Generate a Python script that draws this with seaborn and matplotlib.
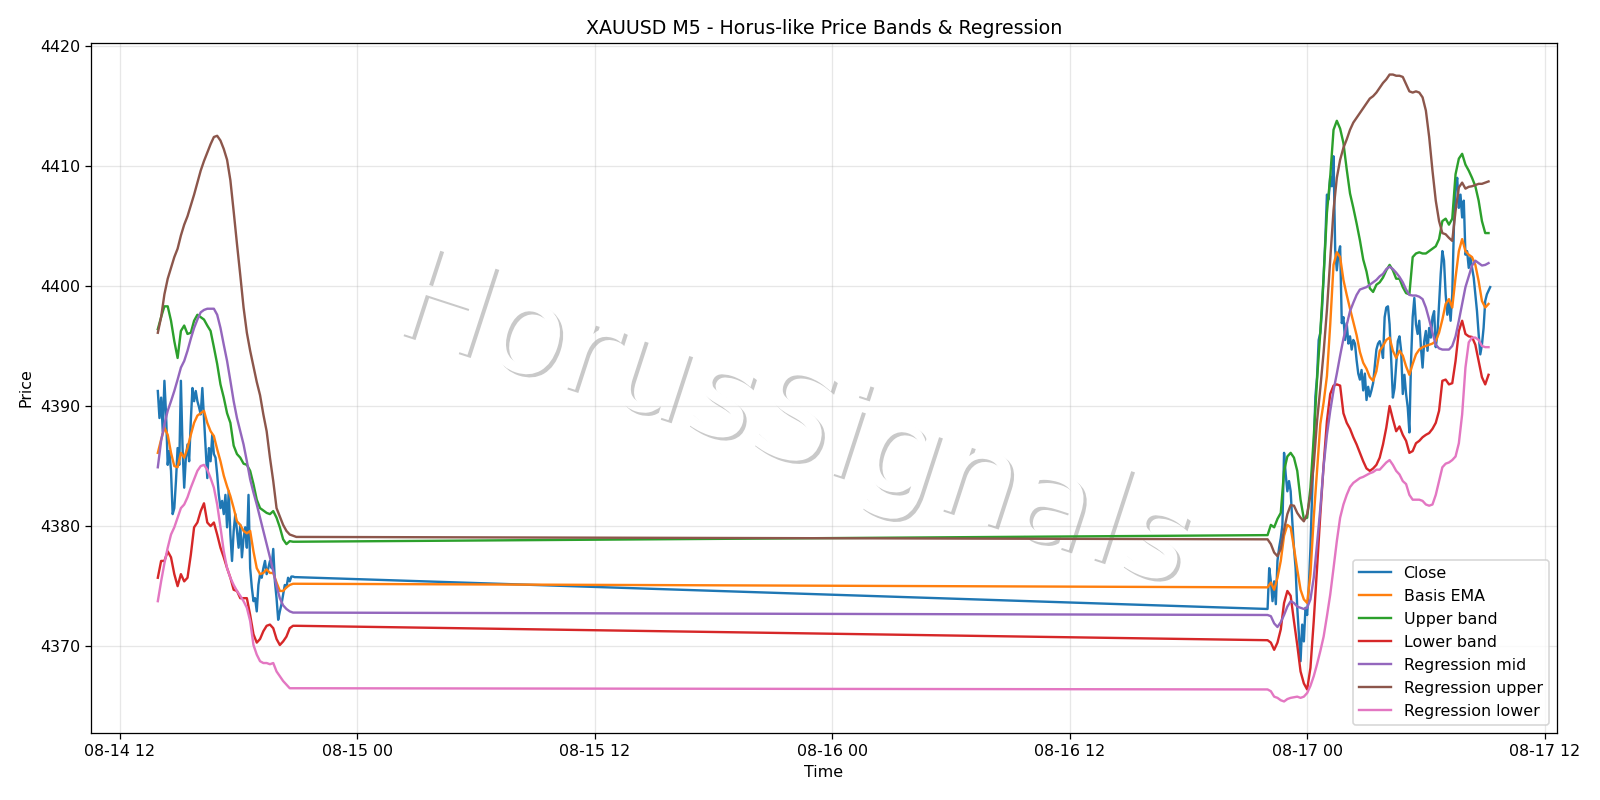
import pandas as pd
import seaborn as sns
import matplotlib.pyplot as plt
import matplotlib.dates as mdates
import matplotlib.patheffects as pe

# --- Close prices, M5 bars (Friday session, then Sunday/Monday session) ---
close_fri = [4391.25, 4389.0, 4390.7, 4387.9, 4392.1, 4389.3, 4385.1, 4386.25, 4384.6, 4381.0,
             4381.5, 4383.75, 4386.5, 4385.1, 4392.1, 4386.5, 4383.2, 4385.7, 4386.8, 4385.4,
             4388.75, 4391.5, 4390.4, 4391.25, 4390.4, 4389.9, 4389.3, 4391.5, 4389.0, 4386.5,
             4384.0, 4386.5, 4385.4, 4387.6, 4386.0, 4385.7, 4384.3, 4382.6, 4381.5, 4382.1,
             4381.0, 4382.6, 4379.9, 4382.9, 4379.3, 4377.1, 4379.6, 4381.0, 4379.6, 4378.2,
             4380.1, 4377.4, 4379.0, 4379.9, 4378.2, 4382.6, 4376.5, 4374.9, 4373.75, 4374.0,
             4372.9, 4375.1, 4376.0, 4375.7, 4376.5, 4377.1, 4376.0, 4376.5, 4377.1, 4376.5,
             4378.1, 4375.4, 4374.0, 4372.2, 4372.9, 4373.5, 4374.3, 4375.1, 4374.9, 4375.7,
             4375.4, 4375.8, 4375.8, 4375.75, 4375.75]
close_sun = [4373.1, 4376.5, 4375.4, 4373.75, 4375.4, 4373.5, 4377.1, 4378.2, 4379.0, 4380.1,
             4386.1, 4384.3, 4382.9, 4383.75, 4382.9, 4380.4, 4378.2, 4376.5, 4373.2, 4371.0,
             4368.75, 4371.8, 4370.4, 4373.2, 4372.6, 4374.9, 4378.2, 4382.6, 4386.5, 4390.8,
             4392.4, 4395.5, 4396.1, 4398.0, 4400.8, 4403.8, 4407.6, 4407.2, 4409.1, 4408.3,
             4410.8, 4403.0, 4401.3, 4402.7, 4403.3, 4396.9, 4397.4, 4395.5, 4396.9, 4395.2,
             4395.8, 4394.7, 4395.5, 4395.2, 4393.8, 4392.7, 4392.2, 4393.0, 4391.3, 4392.7,
             4390.5, 4391.6, 4390.8, 4391.3, 4391.9, 4393.3, 4394.7, 4395.2, 4395.4, 4394.9,
             4394.0, 4397.4, 4398.2, 4398.3, 4396.8, 4393.75, 4390.7, 4391.5, 4393.5, 4395.4,
             4395.8, 4394.6, 4391.0, 4392.6, 4391.0, 4389.9, 4387.8, 4393.75, 4397.4, 4399.0,
             4396.8, 4396.0, 4397.1, 4394.9, 4393.2, 4395.4, 4396.25, 4394.6, 4396.5, 4395.7,
             4397.4, 4397.9, 4394.9, 4396.0, 4398.5, 4401.0, 4402.9, 4402.1, 4399.3, 4397.6,
             4398.75, 4397.1, 4399.3, 4404.9, 4408.2, 4409.0, 4406.5, 4407.6, 4405.7, 4407.1,
             4402.6, 4402.9, 4401.5, 4402.4, 4401.5, 4400.7, 4399.3, 4397.9, 4396.0, 4394.3,
             4395.1, 4396.5, 4398.75, 4399.3, 4399.6, 4399.9]

# --- bands, read every 10 minutes ---
ema_fri = [4386.1, 4387.2, 4388.2, 4387.6, 4386.1, 4385.0, 4384.9, 4386.1, 4385.7, 4386.5,
           4387.6, 4388.6, 4389.2, 4389.4, 4389.6, 4388.6, 4387.9, 4387.5, 4386.4, 4385.4,
           4384.2, 4383.3, 4382.5, 4381.5, 4380.4, 4380.1, 4379.6, 4379.4, 4379.6, 4377.9,
           4376.5, 4376.0, 4376.1, 4376.4, 4376.1, 4376.1, 4375.3, 4374.6, 4374.6, 4374.9,
           4375.1, 4375.2, 4375.2]
upper_fri = [4396.4, 4397.4, 4398.3, 4398.3, 4397.1, 4395.4, 4394.0, 4396.25, 4396.7, 4396.0,
             4396.1, 4397.1, 4397.6, 4397.4, 4397.2, 4396.7, 4396.25, 4394.9, 4393.5, 4391.8,
             4390.7, 4389.4, 4388.6, 4386.7, 4386.0, 4385.7, 4385.2, 4385.1, 4384.6, 4383.5,
             4382.2, 4381.5, 4381.3, 4381.1, 4381.0, 4381.25, 4380.7, 4379.9, 4378.9, 4378.5,
             4378.75, 4378.7, 4378.7]
lower_fri = [4375.7, 4377.1, 4377.1, 4377.9, 4377.4, 4376.0, 4375.0, 4376.0, 4375.4, 4375.7,
             4377.6, 4379.9, 4380.3, 4381.25, 4381.9, 4380.3, 4380.0, 4380.3, 4379.3, 4378.2,
             4377.4, 4376.5, 4375.7, 4374.7, 4374.6, 4374.0, 4374.0, 4374.0, 4372.6, 4371.0,
             4370.3, 4370.6, 4371.25, 4371.7, 4371.8, 4371.5, 4370.6, 4370.1, 4370.4, 4370.8,
             4371.5, 4371.7, 4371.7]
reg_mid_fri = [4384.9, 4387.1, 4388.5, 4389.6, 4390.4, 4391.25, 4392.2, 4393.2, 4393.75, 4394.6,
               4395.6, 4396.5, 4397.2, 4397.8, 4398.0, 4398.1, 4398.1, 4398.1, 4397.6, 4396.5,
               4395.1, 4393.75, 4392.1, 4390.4, 4389.0, 4387.9, 4386.8, 4385.4, 4383.9, 4382.8,
               4381.8, 4380.7, 4379.6, 4378.5, 4377.4, 4376.25, 4375.0, 4374.0, 4373.4, 4373.1,
               4372.9, 4372.8, 4372.8]
reg_up_fri = [4396.1, 4397.4, 4399.3, 4400.6, 4401.5, 4402.4, 4403.1, 4404.2, 4405.1, 4405.8,
              4406.7, 4407.6, 4408.6, 4409.6, 4410.4, 4411.1, 4411.8, 4412.4, 4412.5, 4412.1,
              4411.4, 4410.5, 4408.8, 4406.2, 4403.5, 4400.9, 4398.2, 4396.1, 4394.6, 4393.3,
              4392.0, 4390.9, 4389.3, 4387.9, 4385.7, 4383.75, 4381.5, 4380.8, 4380.1, 4379.6,
              4379.3, 4379.2, 4379.1]
reg_low_fri = [4373.75, 4375.4, 4376.9, 4378.2, 4379.3, 4379.9, 4380.7, 4381.5, 4381.8, 4382.4,
               4383.2, 4383.9, 4384.6, 4385.0, 4385.1, 4384.7, 4384.0, 4383.2, 4381.8, 4379.9,
               4377.9, 4376.5, 4375.7, 4375.1, 4374.6, 4374.2, 4373.75, 4373.2, 4372.1, 4370.1,
               4369.3, 4368.75, 4368.6, 4368.6, 4368.5, 4368.6, 4367.9, 4367.5, 4367.1, 4366.8,
               4366.5, 4366.5, 4366.5]

ema_sun = [4374.9, 4375.3, 4374.7, 4375.7, 4377.1, 4379.2, 4380.1, 4379.9, 4378.2, 4376.4,
           4374.7, 4373.9, 4373.6, 4376.0, 4380.7, 4384.6, 4388.5, 4390.3, 4392.5, 4396.8,
           4401.75, 4402.8, 4402.4, 4400.5, 4399.25, 4398.1, 4397.0, 4395.9, 4394.5, 4393.6,
           4393.1, 4392.4, 4392.1, 4392.9, 4394.6, 4395.0, 4395.5, 4395.7, 4394.6, 4394.0,
           4394.6, 4394.2, 4393.3, 4392.6, 4393.5, 4394.3, 4394.7, 4394.9, 4395.0, 4395.1,
           4395.2, 4395.4, 4396.1, 4397.2, 4398.5, 4398.9, 4398.2, 4400.7, 4402.9, 4403.9,
           4402.9, 4402.6, 4402.4, 4401.75, 4400.4, 4398.75, 4398.2, 4398.5]
upper_sun = [4379.25, 4380.1, 4379.9, 4380.6, 4381.1, 4384.6, 4385.8, 4386.1, 4385.7, 4384.6,
             4382.2, 4380.6, 4380.7, 4383.2, 4387.4, 4392.2, 4396.2, 4400.8, 4406.1, 4409.1,
             4413.0, 4413.75, 4413.1, 4411.9, 4409.7, 4407.7, 4406.5, 4405.2, 4403.8, 4402.2,
             4401.2, 4399.8, 4399.5, 4400.1, 4400.3, 4400.7, 4401.3, 4401.75, 4401.3, 4400.6,
             4400.6, 4399.9, 4399.4, 4399.3, 4402.4, 4402.7, 4402.8, 4402.7, 4402.7, 4402.9,
             4403.1, 4403.3, 4403.9, 4405.4, 4405.6, 4405.1, 4405.6, 4409.3, 4410.6, 4411.0,
             4410.1, 4409.6, 4409.0, 4408.3, 4407.1, 4405.4, 4404.4, 4404.4]
lower_sun = [4370.5, 4370.3, 4369.7, 4370.3, 4371.4, 4373.6, 4374.6, 4374.2, 4372.1, 4370.1,
             4367.9, 4366.9, 4366.4, 4368.2, 4372.1, 4376.5, 4381.0, 4385.1, 4388.75, 4391.0,
             4391.7, 4391.8, 4391.7, 4389.4, 4388.6, 4388.1, 4387.4, 4386.8, 4386.1, 4385.4,
             4384.8, 4384.6, 4384.8, 4385.1, 4385.7, 4386.8, 4388.2, 4390.0, 4388.9, 4387.9,
             4388.3, 4387.6, 4387.1, 4386.1, 4386.25, 4386.9, 4387.1, 4387.4, 4387.6, 4387.75,
             4388.1, 4388.6, 4389.6, 4392.1, 4392.2, 4391.8, 4391.9, 4393.75, 4396.25, 4397.1,
             4396.0, 4395.8, 4395.75, 4395.1, 4393.75, 4392.4, 4391.8, 4392.6]
reg_mid_sun = [4372.6, 4372.5, 4371.9, 4371.6, 4372.0, 4372.6, 4373.3, 4373.75, 4373.6, 4373.3,
               4373.2, 4373.1, 4373.2, 4373.9, 4375.7, 4378.5, 4381.5, 4385.0, 4387.6, 4389.6,
               4391.3, 4392.7, 4394.2, 4395.6, 4396.75, 4397.9, 4398.6, 4399.25, 4399.7, 4399.8,
               4399.9, 4400.1, 4400.3, 4400.5, 4400.8, 4401.0, 4401.4, 4401.6, 4401.4, 4401.1,
               4400.75, 4400.3, 4399.7, 4399.25, 4399.2, 4399.2, 4399.1, 4398.9, 4398.2, 4397.2,
               4396.1, 4395.1, 4394.8, 4394.7, 4394.7, 4394.7, 4395.0, 4395.8, 4397.1, 4398.5,
               4399.9, 4400.8, 4401.7, 4402.1, 4401.9, 4401.7, 4401.75, 4401.9]
reg_up_sun = [4378.9, 4378.5, 4377.8, 4377.5, 4378.1, 4379.7, 4381.0, 4381.75, 4381.7, 4381.1,
              4380.7, 4380.4, 4381.0, 4382.6, 4385.1, 4388.75, 4391.5, 4394.5, 4398.0, 4402.2,
              4406.3, 4409.0, 4410.5, 4411.5, 4412.2, 4413.0, 4413.6, 4414.0, 4414.4, 4414.8,
              4415.2, 4415.6, 4415.8, 4416.1, 4416.5, 4416.9, 4417.2, 4417.6, 4417.6, 4417.5,
              4417.5, 4417.4, 4416.8, 4416.2, 4416.1, 4416.2, 4416.1, 4415.7, 4414.6, 4412.4,
              4409.6, 4407.1, 4405.4, 4404.4, 4404.3, 4404.0, 4403.75, 4406.25, 4408.2, 4408.6,
              4408.1, 4408.25, 4408.3, 4408.4, 4408.5, 4408.5, 4408.6, 4408.7]
reg_low_sun = [4366.4, 4366.25, 4365.8, 4365.7, 4365.5, 4365.4, 4365.6, 4365.7, 4365.75, 4365.8,
               4365.7, 4365.8, 4366.1, 4366.7, 4367.5, 4368.5, 4369.6, 4370.8, 4372.5, 4374.3,
               4376.5, 4378.75, 4380.7, 4381.8, 4382.6, 4383.25, 4383.6, 4383.8, 4384.0, 4384.1,
               4384.25, 4384.4, 4384.5, 4384.7, 4384.7, 4385.0, 4385.3, 4385.5, 4385.1, 4384.6,
               4384.3, 4383.75, 4383.5, 4382.6, 4382.2, 4382.2, 4382.2, 4382.1, 4381.8, 4381.7,
               4381.8, 4382.6, 4383.75, 4384.9, 4385.2, 4385.3, 4385.5, 4385.8, 4386.9, 4389.3,
               4393.2, 4395.3, 4395.7, 4395.7, 4395.5, 4395.0, 4394.9, 4394.9]

# time axes (market closed over the weekend)
close_time = pd.date_range('2026-08-14 13:55', periods=len(close_fri), freq='5min').append(
    pd.date_range('2026-08-16 22:00', periods=len(close_sun), freq='5min'))
band_time = pd.date_range('2026-08-14 13:55', periods=len(ema_fri), freq='10min').append(
    pd.date_range('2026-08-16 22:00', periods=len(ema_sun), freq='10min'))

df_close = pd.DataFrame({'time': close_time, 'close': close_fri + close_sun})
df_bands = pd.DataFrame({
    'time': band_time,
    'ema': ema_fri + ema_sun,
    'upper': upper_fri + upper_sun,
    'lower': lower_fri + lower_sun,
    'reg_mid': reg_mid_fri + reg_mid_sun,
    'reg_up': reg_up_fri + reg_up_sun,
    'reg_low': reg_low_fri + reg_low_sun,
})

fig, ax = plt.subplots(figsize=(14, 7), dpi=1600 / 14)
fig.subplots_adjust(left=0.057, right=0.973, top=0.946, bottom=0.084)

sns.lineplot(data=df_close, x='time', y='close', ax=ax, color='#1f77b4', label='Close', linewidth=1.5)
series = [('ema', 'Basis EMA', '#ff7f0e'),
          ('upper', 'Upper band', '#2ca02c'),
          ('lower', 'Lower band', '#d62728'),
          ('reg_mid', 'Regression mid', '#9467bd'),
          ('reg_up', 'Regression upper', '#8c564b'),
          ('reg_low', 'Regression lower', '#e377c2')]
for col, name, c in series:
    sns.lineplot(data=df_bands, x='time', y=col, ax=ax, color=c, label=name, linewidth=1.5)

ax.set_title('XAUUSD M5 - Horus-like Price Bands & Regression')
ax.set_xlabel('Time')
ax.set_ylabel('Price')
ax.xaxis.set_major_locator(mdates.HourLocator(byhour=[0, 12]))
ax.xaxis.set_major_formatter(mdates.DateFormatter('%m-%d %H'))
ax.grid(True, alpha=0.3)
ax.legend(loc='lower right')

# watermark, under grid and lines
ax.text(0.479, 0.448, 'HorusSignals', transform=ax.transAxes, fontsize=80,
        color='white', rotation=-18, ha='center', va='center', zorder=1,
        path_effects=[pe.withSimplePatchShadow()])

plt.savefig('out.png')
plt.close()
